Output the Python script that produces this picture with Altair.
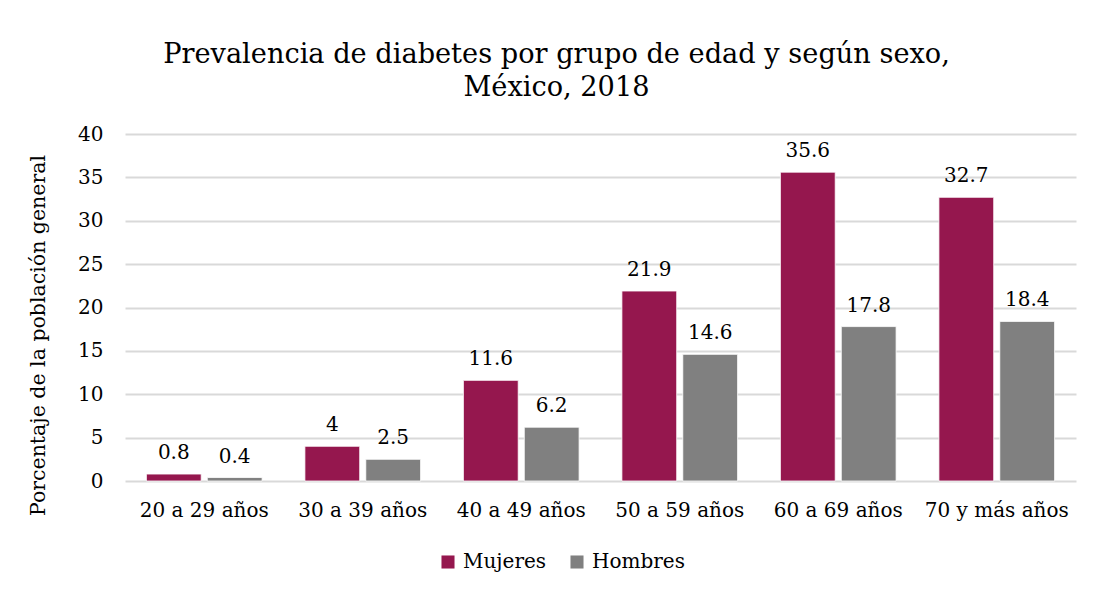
import altair as alt
import pandas as pd

grupos = ["20 a 29 años", "30 a 39 años", "40 a 49 años", "50 a 59 años", "60 a 69 años", "70 y más años"]
mujeres = [0.8, 4, 11.6, 21.9, 35.6, 32.7]
hombres = [0.4, 2.5, 6.2, 14.6, 17.8, 18.4]
series = ["Mujeres", "Hombres"]
colores = ["#95174E", "#808080"]

rows = []
for g, m, h in zip(grupos, mujeres, hombres):
    rows.append({"grupo": g, "sexo": "Mujeres", "valor": m, "etiqueta": f"{m:g}"})
    rows.append({"grupo": g, "sexo": "Hombres", "valor": h, "etiqueta": f"{h:g}"})
df = pd.DataFrame(rows)

FONT = "DejaVu Serif"
FS = 20

x = alt.X("grupo:N", sort=grupos, title=None,
          scale=alt.Scale(paddingInner=0.27, paddingOuter=0.135),
          axis=alt.Axis(labelAngle=0, labelFontSize=FS, labelPadding=19, ticks=False,
                        domain=False, labelColor="#000000", labelFont=FONT))
xo = alt.XOffset("sexo:N", sort=series, scale=alt.Scale(paddingInner=0.1))

base = alt.Chart(df).encode(x=x, xOffset=xo)

bars = base.mark_bar(stroke="white", strokeWidth=0.8).encode(
    y=alt.Y("valor:Q", title="Porcentaje de la población general",
            scale=alt.Scale(domain=[0, 40]),
            axis=alt.Axis(values=[0, 5, 10, 15, 20, 25, 30, 35, 40], ticks=False, domain=False,
                          labelFontSize=FS, labelPadding=22, labelColor="#000000",
                          labelFont=FONT, titleFont=FONT, titleFontSize=20.5,
                          titleFontWeight="normal", titleColor="#000000", titlePadding=29,
                          titleY=201,
                          gridColor="#d9d9d9", gridWidth=2)),
    color=alt.Color("sexo:N", sort=series,
                    scale=alt.Scale(domain=series, range=colores),
                    legend=alt.Legend(title=None, orient="none", direction="horizontal",
                                      legendX=313, legendY=418, symbolType="square",
                                      symbolSize=170, symbolStrokeWidth=0,
                                      labelFont=FONT, labelFontSize=20, labelColor="#000000",
                                      labelOffset=5, columnPadding=20)),
)

labels = base.mark_text(baseline="bottom", dy=-11, fontSize=FS, font=FONT, color="#000000").encode(
    y=alt.Y("valor:Q"),
    text=alt.Text("etiqueta:N"),
)

chart = alt.layer(bars, labels).properties(
    width=951,
    height=347,
    autosize=alt.AutoSizeParams(type="none"),
    padding={"left": 117, "top": 126, "right": 10, "bottom": 105},
    title=alt.Title(["Prevalencia de diabetes por grupo de edad y según sexo,", "México, 2018"],
                    anchor="middle", font=FONT, fontSize=27.2, fontWeight="normal",
                    color="#000000", lineHeight=33, offset=22, dx=-44),
).configure_view(stroke=None)

chart.save("out.html", embed_options={"renderer": "svg", "actions": False})
